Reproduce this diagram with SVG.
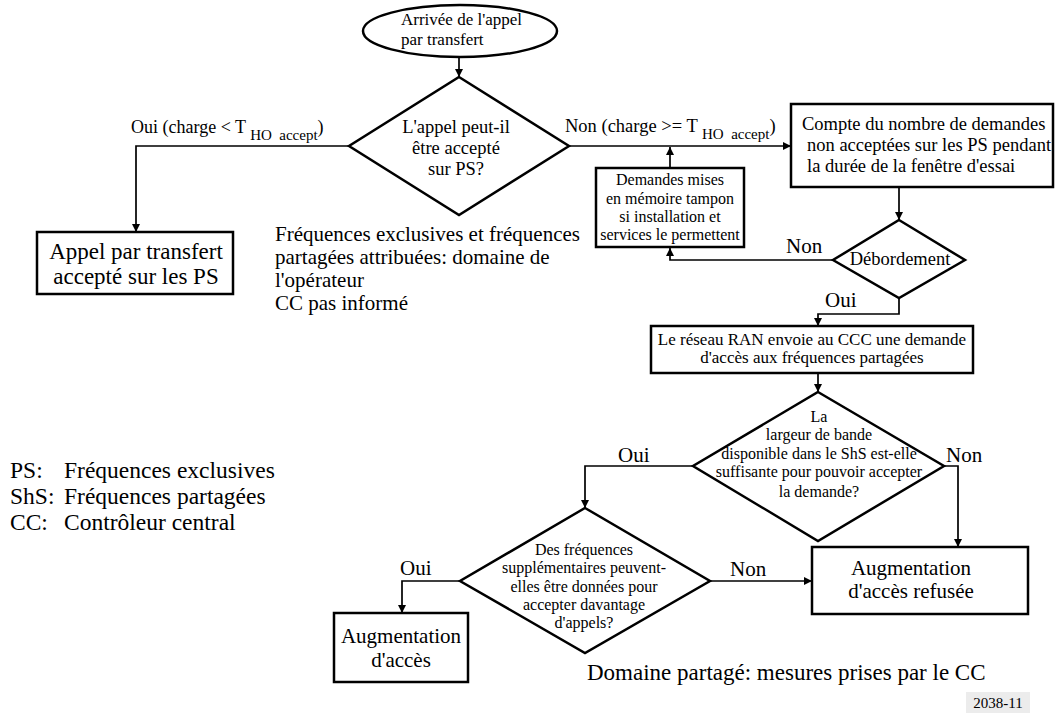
<svg xmlns="http://www.w3.org/2000/svg" width="1060" height="715" viewBox="0 0 1060 715" font-family="'Liberation Serif', 'DejaVu Serif', serif">
  <defs>
    <marker id="arr" viewBox="0 0 10 10" refX="10" refY="5" markerWidth="8" markerHeight="8" markerUnits="userSpaceOnUse" orient="auto">
      <path d="M0,0 L10,5 L0,10 Z" fill="#000"/>
    </marker>
    <style>
      text { font-family: 'Liberation Serif', 'DejaVu Serif', serif; fill: #000; }
      .shape { fill: #fff; stroke: #000; stroke-width: 2.5; }
      .conn { fill: none; stroke: #000; stroke-width: 1.7; marker-end: url(#arr); }
      .mid { text-anchor: middle; }
      .lbl { font-size: 21px; }
    </style>
  </defs>
  <rect width="1060" height="715" fill="#fff"/>

  <!-- connectors -->
  <g id="connectors">
    <path class="conn" d="M459,57 V77"/>
    <path class="conn" d="M349,146 H136 V232"/>
    <path class="conn" d="M569,146 H791"/>
    <path class="conn" d="M670,168 V147"/>
    <path class="conn" d="M899,187 V220"/>
    <path class="conn" d="M833,260 H670 V248"/>
    <path class="conn" d="M899,298 V314 H818 V326"/>
    <path class="conn" d="M818,373 V392"/>
    <path class="conn" d="M693,466 H585 V508"/>
    <path class="conn" d="M944,466 H958 V547"/>
    <path class="conn" d="M710,581 H812"/>
    <path class="conn" d="M460,581 H402 V613"/>
  </g>

  <!-- edge labels -->
  <g id="edge-labels">
    <text x="131" y="133" font-size="18" xml:space="preserve">Oui (charge &lt; T <tspan font-size="15" dy="7">HO  accept</tspan><tspan dy="-7">)</tspan></text>
    <text x="565" y="132" font-size="18.5" xml:space="preserve">Non (charge &gt;= T <tspan font-size="15" dy="7">HO  accept</tspan><tspan dy="-7">)</tspan></text>
    <text class="lbl" x="786" y="253">Non</text>
    <text class="lbl" x="825" y="307">Oui</text>
    <text class="lbl" x="618" y="462">Oui</text>
    <text class="lbl" x="946" y="462">Non</text>
    <text class="lbl" x="730" y="576">Non</text>
    <text class="lbl" x="400" y="575">Oui</text>
  </g>

  <g id="start">
    <ellipse class="shape" cx="460" cy="31" rx="97" ry="26"/>
    <text x="401" y="25" font-size="17">Arrivée de l'appel</text>
    <text x="401" y="45" font-size="17">par transfert</text>
  </g>

  <g id="decision-ps">
    <polygon class="shape" points="459,77 569,146 459,215 349,146"/>
    <text class="mid" x="456" y="133" font-size="18.5">L'appel peut-il</text>
    <text class="mid" x="456" y="154" font-size="18.5">être accepté</text>
    <text class="mid" x="456" y="175" font-size="18.5">sur PS?</text>
  </g>

  <g id="accepted-ps">
    <rect class="shape" x="37" y="232" width="196" height="62"/>
    <text class="mid" x="136" y="259" font-size="23">Appel par transfert</text>
    <text class="mid" x="136" y="284" font-size="23">accepté sur les PS</text>
  </g>

  <g id="operator-note">
    <text x="275" y="241" font-size="21">Fréquences exclusives et fréquences</text>
    <text x="275" y="264" font-size="21">partagées attribuées: domaine de</text>
    <text x="275" y="287" font-size="21">l'opérateur</text>
    <text x="275" y="310" font-size="21">CC pas informé</text>
  </g>

  <g id="count-box">
    <rect class="shape" x="791" y="104" width="262" height="83"/>
    <text x="802" y="130" font-size="18.5">Compte du nombre de demandes</text>
    <text x="807" y="151" font-size="18.5">non acceptées sur les PS pendant</text>
    <text x="807" y="172" font-size="18.5">la durée de la fenêtre d'essai</text>
  </g>

  <g id="buffer-box">
    <rect class="shape" x="596" y="168" width="148" height="79"/>
    <text class="mid" x="670" y="185" font-size="16">Demandes mises</text>
    <text class="mid" x="670" y="204" font-size="16">en mémoire tampon</text>
    <text class="mid" x="670" y="222" font-size="16">si installation et</text>
    <text class="mid" x="670" y="240" font-size="16">services le permettent</text>
  </g>

  <g id="overflow">
    <polygon class="shape" points="899,220 965,260 899,298 833,260"/>
    <text class="mid" x="900" y="265" font-size="18.5">Débordement</text>
  </g>

  <g id="ran-request">
    <rect class="shape" x="651" y="326" width="322" height="47"/>
    <text class="mid" x="812" y="345" font-size="17">Le réseau RAN envoie au CCC une demande</text>
    <text class="mid" x="812" y="363" font-size="17">d'accès aux fréquences partagées</text>
  </g>

  <g id="decision-bandwidth">
    <polygon class="shape" points="818,392 944,466 818,541 693,466"/>
    <text class="mid" x="819" y="422" font-size="16">La</text>
    <text class="mid" x="819" y="440" font-size="16">largeur de bande</text>
    <text class="mid" x="819" y="459" font-size="16">disponible dans le ShS est-elle</text>
    <text class="mid" x="819" y="477" font-size="16">suffisante pour pouvoir accepter</text>
    <text class="mid" x="819" y="497" font-size="16">la demande?</text>
  </g>

  <g id="decision-extra">
    <polygon class="shape" points="585,508 710,581 585,653 460,581"/>
    <text class="mid" x="584" y="555" font-size="16">Des fréquences</text>
    <text class="mid" x="584" y="573" font-size="16">supplémentaires peuvent-</text>
    <text class="mid" x="584" y="592" font-size="16">elles être données pour</text>
    <text class="mid" x="584" y="610" font-size="16">accepter davantage</text>
    <text class="mid" x="584" y="628" font-size="16">d'appels?</text>
  </g>

  <g id="access-refused">
    <rect class="shape" x="812" y="547" width="216" height="67"/>
    <text class="mid" x="911" y="575" font-size="21">Augmentation</text>
    <text class="mid" x="911" y="598" font-size="21">d'accès refusée</text>
  </g>

  <g id="access-granted">
    <rect class="shape" x="334" y="613" width="134" height="69"/>
    <text class="mid" x="401" y="643" font-size="21">Augmentation</text>
    <text class="mid" x="401" y="667" font-size="21">d'accès</text>
  </g>

  <g id="shared-note">
    <text x="587" y="680" font-size="23">Domaine partagé: mesures prises par le CC</text>
  </g>

  <g id="legend" font-size="23.5">
    <text x="10" y="478">PS:</text>
    <text x="64" y="478">Fréquences exclusives</text>
    <text x="10" y="504">ShS:</text>
    <text x="64" y="504">Fréquences partagées</text>
    <text x="10" y="530">CC:</text>
    <text x="64" y="530">Contrôleur central</text>
  </g>

  <g id="figure-ref">
    <rect x="966" y="692" width="64" height="21" fill="#ececec"/>
    <text x="998" y="708" font-size="15" text-anchor="middle">2038-11</text>
  </g>
</svg>
